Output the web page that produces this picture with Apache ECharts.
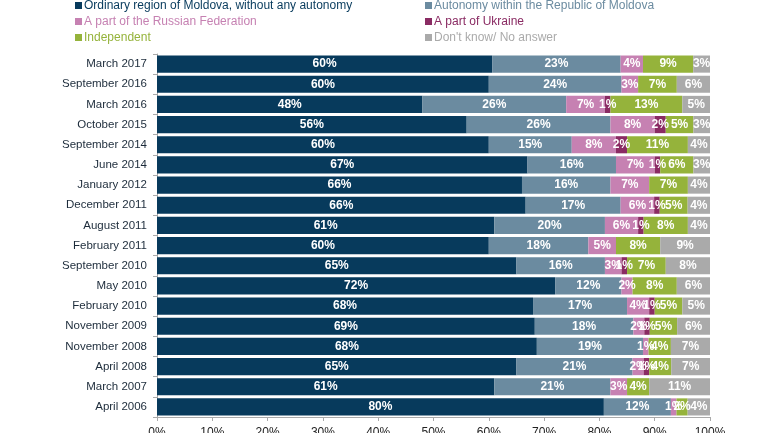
<!DOCTYPE html>
<html>
<head>
<meta charset="utf-8">
<script src="https://cdn.jsdelivr.net/npm/echarts@6/dist/echarts.min.js"></script>
<style>html,body{margin:0;padding:0;background:#fff}#c{width:770px;height:433px}</style>
</head>
<body>
<div id="c"></div>
<script>
var categories = ["March 2017","September 2016","March 2016","October 2015","September 2014","June 2014","January 2012","December 2011","August 2011","February 2011","September 2010","May 2010","February 2010","November 2009","November 2008","April 2008","March 2007","April 2006"];
var ordinary    = [60,60,48,56,60,67,66,66,61,60,65,72,68,69,68,65,61,80];
var autonomy    = [23,24,26,26,15,16,16,17,20,18,16,12,17,18,19,21,21,12];
var russia      = [4,3,7,8,8,7,7,6,6,5,3,2,4,2,1,2,3,1];
var ukraine     = [0,0,1,2,2,1,0,1,1,0,1,0,1,1,0,1,0,0];
var independent = [9,7,13,5,11,6,7,5,8,8,7,8,5,5,4,4,4,2];
var dontknow    = [3,6,5,3,4,3,4,4,4,9,8,6,5,6,7,7,11,4];
var xTicks = ["0%","10%","20%","30%","40%","50%","60%","70%","80%","90%","100%"];

var seriesDefs = [
  {name:"Ordinary region of Moldova, without any autonomy", data:ordinary, color:"#073a5c"},
  {name:"Autonomy within the Republic of Moldova", data:autonomy, color:"#6b8ba0"},
  {name:"A part of the Russian Federation", data:russia, color:"#c681b2"},
  {name:"A part of Ukraine", data:ukraine, color:"#8a2b63"},
  {name:"Independent", data:independent, color:"#95b33b"},
  {name:"Don't know/ No answer", data:dontknow, color:"#aaaaaa"}
];

var sums = categories.map(function(c,i){
  return seriesDefs.reduce(function(s,d){return s+d.data[i];},0);
});

var series = seriesDefs.map(function(d){
  return {
    name:d.name, type:'bar', stack:'all', barCategoryGap:'15%',
    itemStyle:{color:d.color},
    data:d.data.map(function(v,i){return {value:v/sums[i]*100, raw:v};}),
    label:{show:true, position:'inside', color:'#fff', fontSize:12, fontWeight:'bold',
      fontFamily:'Liberation Sans',
      formatter:function(p){var r=p.data.raw; return r>0 ? r+'%' : '';}}
  };
});

function legendItem(d){return {name:d.name, textStyle:{color:d.color}};}

var legendText = {fontSize:12, lineHeight:13, fontFamily:'Liberation Sans', padding:[0,0,0,-3]};
var chart = echarts.init(document.getElementById('c'));
chart.setOption({
  animation:false,
  legend:[
    {left:70, top:-6, orient:'vertical', icon:'rect', itemWidth:7, itemHeight:7, itemGap:3,
     textStyle:legendText,
     data:[legendItem(seriesDefs[0]),legendItem(seriesDefs[2]),legendItem(seriesDefs[4])]},
    {left:420, top:-6, orient:'vertical', icon:'rect', itemWidth:7, itemHeight:7, itemGap:3,
     textStyle:legendText,
     data:[legendItem(seriesDefs[1]),legendItem(seriesDefs[3]),legendItem(seriesDefs[5])]}
  ],
  grid:{left:157, right:60, top:54, bottom:16, containLabel:false, outerBoundsMode:'none'},
  xAxis:{type:'value', min:0, max:100, interval:10,
    axisLine:{show:true, lineStyle:{color:'#aaa'}},
    axisTick:{show:true, length:4, lineStyle:{color:'#aaa'}},
    splitLine:{show:false},
    axisLabel:{margin:10, fontSize:12, color:'#222', fontFamily:'Liberation Sans',
      formatter:function(v){return xTicks[Math.round(v/10)];}}},
  yAxis:{type:'category', data:categories, inverse:true,
    axisLine:{show:true, lineStyle:{color:'#aaa'}},
    axisTick:{show:true, length:4, lineStyle:{color:'#aaa'}},
    axisLabel:{margin:10, fontSize:11.5, color:'#1c2b3a', fontFamily:'Liberation Sans'}},
  series:series
});
</script>
</body>
</html>
